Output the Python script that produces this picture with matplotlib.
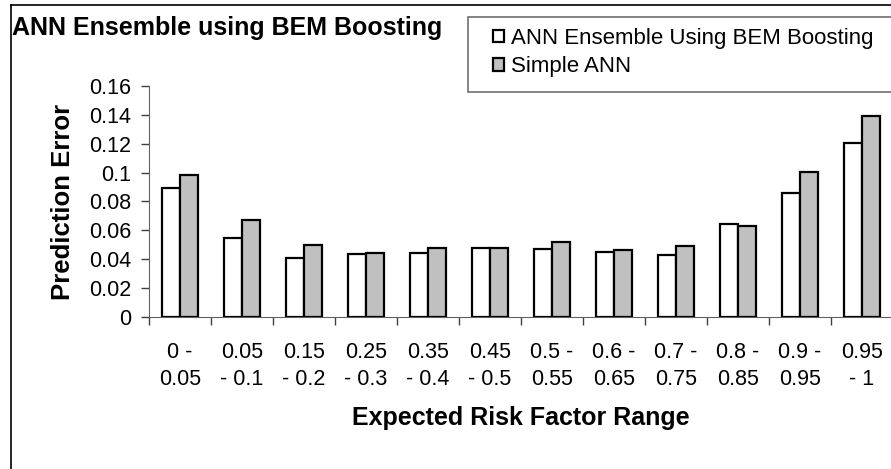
import numpy as np
import matplotlib
matplotlib.use('Agg')
import matplotlib.pyplot as plt
from matplotlib.lines import Line2D
from matplotlib.patches import Rectangle

plt.rcParams['font.family'] = ['Liberation Sans', 'DejaVu Sans']

#ranges of expected risk factor (two-line tick labels)
categories = ['0 -\n0.05', '0.05\n- 0.1', '0.15\n- 0.2', '0.25\n- 0.3', '0.35\n- 0.4', '0.45\n- 0.5',
              '0.5 -\n0.55', '0.6 -\n0.65', '0.7 -\n0.75', '0.8 -\n0.85', '0.9 -\n0.95', '0.95\n- 1']
ensemble = [0.0896, 0.0544, 0.0410, 0.0435, 0.0440, 0.0475, 0.0470, 0.0452, 0.0426, 0.0644, 0.0857, 0.1208]
simple = [0.0984, 0.0674, 0.0496, 0.0445, 0.0480, 0.0475, 0.0519, 0.0466, 0.0493, 0.0630, 0.1005, 0.1396]
yticks = [0, 0.02, 0.04, 0.06, 0.08, 0.1, 0.12, 0.14, 0.16]
ylabels = ['0', '0.02', '0.04', '0.06', '0.08', '0.1', '0.12', '0.14', '0.16']

W, H = 891, 469
fig = plt.figure(figsize=(W/100, H/100), dpi=100)
ax = fig.add_axes([149/W, 1-316.7/H, 744/W, 230.4/H])

x = np.arange(len(categories))
bw = 0.29
ax.bar(x-bw/2, ensemble, bw, color='white', edgecolor='black', linewidth=1.6, zorder=3,
       label='ANN Ensemble Using BEM Boosting')
ax.bar(x+bw/2, simple, bw, color='#c0c0c0', edgecolor='black', linewidth=1.6, zorder=3,
       label='Simple ANN')

ax.set_xlim(-0.5, len(categories)-0.5)
ax.set_ylim(0, 0.16)
ax.set_yticks(yticks)
ax.set_yticklabels(ylabels, fontsize=15.5)
ax.set_xticks(x)
ax.set_xticklabels(categories, fontsize=15.5, linespacing=1.38)
ax.set_xticks(np.arange(len(categories)+1)-0.5, minor=True)
ax.tick_params(axis='x', which='major', length=0, pad=18)
ax.tick_params(axis='x', which='minor', length=6, color='#404040', width=1)
ax.tick_params(axis='y', length=6, color='#404040', width=1, pad=7)
for s in ['top', 'right']:
    ax.spines[s].set_visible(False)
ax.spines['left'].set_color('#606060')
ax.spines['bottom'].set_color('#606060')
ax.set_facecolor('none')

ax.set_ylabel('Prediction Error', fontsize=18.5, fontweight='bold', labelpad=10)
ax.set_xlabel('Expected Risk Factor Range', fontsize=18, fontweight='bold', labelpad=12)

fig.text(12/W, 1-34.5/H, 'ANN Ensemble using BEM Boosting', fontsize=18, fontweight='bold')

#legend box runs past the right edge like in the original
fig.add_artist(Rectangle((468/W, 1-92/H), 430/W, 75/H, transform=fig.transFigure,
                         facecolor='white', edgecolor='#707070', lw=1.2, zorder=4))
leg = fig.legend(loc='upper left', bbox_to_anchor=(484/W, 1-19/H), fontsize=16,
                 handlelength=0.5, handleheight=0.5, handletextpad=0.3, labelspacing=0.33,
                 frameon=False, borderaxespad=0, borderpad=0.4)
leg.set_zorder(5)

#outer chart border (left and top edges visible)
fig.add_artist(Line2D([11/W, 11/W], [0, 1-5/H], color='black', lw=1.2))
fig.add_artist(Line2D([11/W, 1], [1-5/H, 1-5/H], color='black', lw=1.2))

fig.savefig('out.png', dpi=100)
